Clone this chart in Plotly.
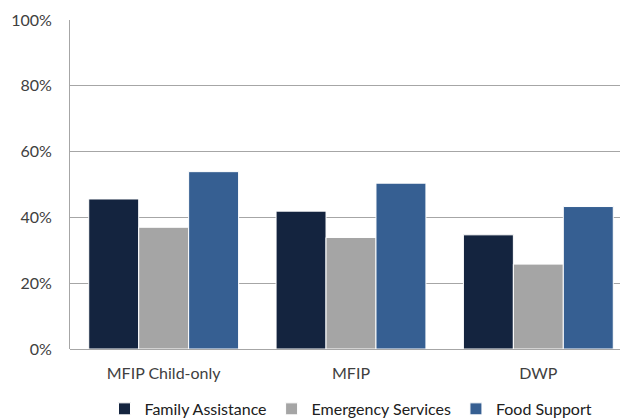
import plotly.graph_objects as go

categories = ["MFIP Child-only", "MFIP", "DWP"]
family_assistance = [45.6, 41.9, 34.7]
emergency_services = [37.0, 33.9, 25.8]
food_support = [53.9, 50.4, 43.3]
y_ticks = [0, 20, 40, 60, 80, 100]
y_tick_labels = ["0%", "20%", "40%", "60%", "80%", "100%"]

series = [
    ("Family Assistance", family_assistance, "#14243f"),
    ("Emergency Services", emergency_services, "#a5a5a5"),
    ("Food Support", food_support, "#365f92"),
]

fig = go.Figure()
for name, vals, color in series:
    fig.add_trace(go.Bar(
        x=categories, y=vals, name=name,
        marker=dict(color=color, line=dict(color="white", width=1)),
    ))

font = dict(family="Lato, Open Sans, sans-serif", size=16, color="#404040")
fig.update_layout(
    width=635, height=419, autosize=False,
    margin=dict(l=70, r=3, t=20, b=70, autoexpand=False),
    paper_bgcolor="white", plot_bgcolor="white",
    barmode="group", bargap=0.2, bargroupgap=0,
    font=font,
    showlegend=True,
    legend=dict(orientation="h", x=0.5, xanchor="center", yref="container", y=0.024, yanchor="middle",
                font=dict(size=16, color="#202020"), traceorder="normal"),
    xaxis=dict(showgrid=False, showline=False, ticks="", automargin=False,
               ticklabelstandoff=13, tickfont=dict(size=16, color="#404040")),
    yaxis=dict(range=[0, 100], tickvals=y_ticks, ticktext=y_tick_labels, automargin=False,
               showgrid=True, gridcolor="#a6a6a6", gridwidth=1,
               showline=True, linecolor="#a6a6a6", linewidth=1,
               zeroline=True, zerolinecolor="#a6a6a6", zerolinewidth=1,
               ticks="", ticklen=0, ticklabelstandoff=14,
               tickfont=dict(size=16, color="#404040")),
)
fig.write_html(
    "out.html",
    config={"responsive": False, "displayModeBar": False},
    default_width="635px", default_height="419px",
    post_script="document.body.style.margin='0';document.body.style.overflow='hidden';",
)
